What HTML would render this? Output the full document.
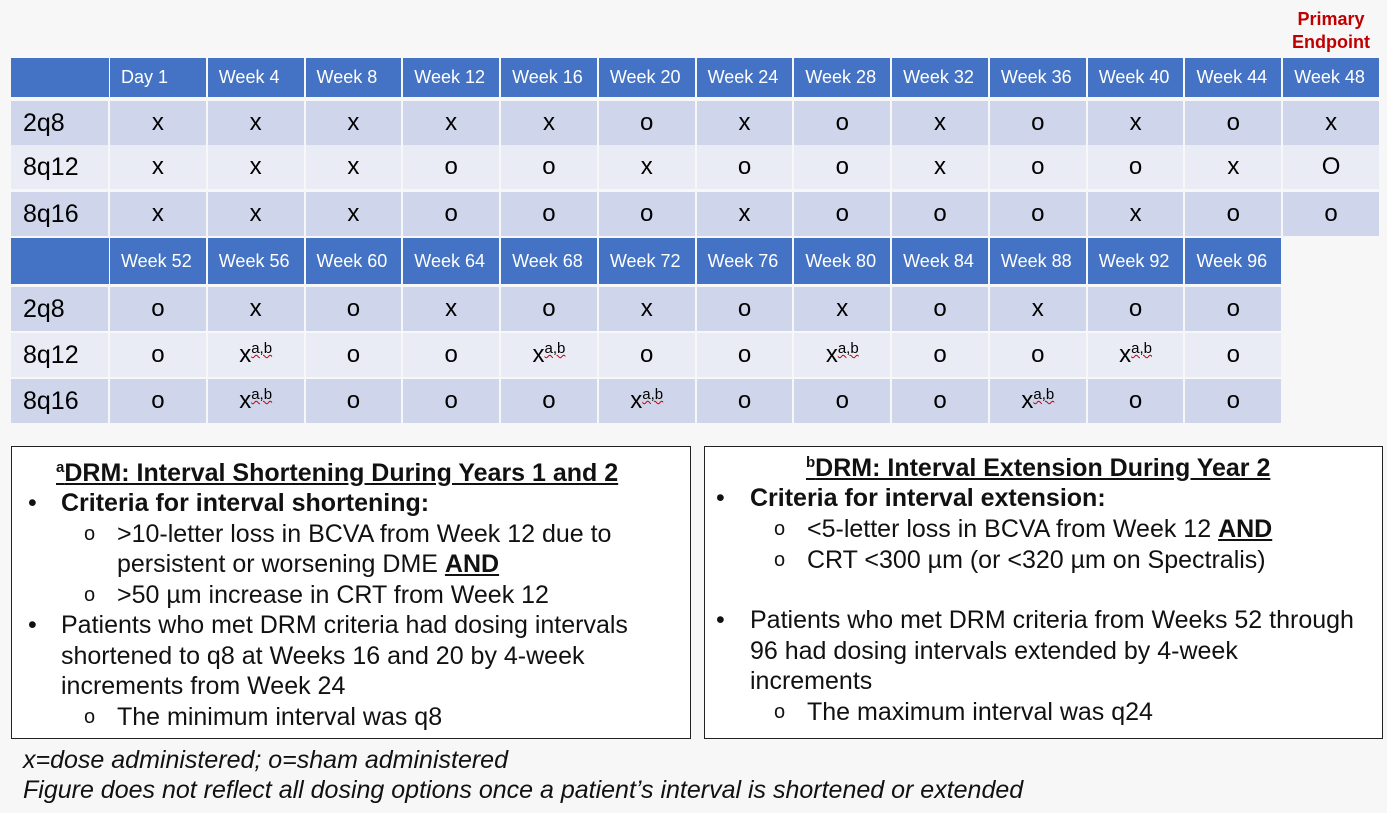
<!DOCTYPE html>
<html><head><meta charset="utf-8">
<style>
body{margin:0;background:#f7f7f7;width:1387px;height:813px;position:relative;overflow:hidden;font-family:"Liberation Sans",Arial,sans-serif;}
.abs{position:absolute;white-space:nowrap;}
.cell{position:absolute;box-sizing:border-box;display:flex;align-items:center;}
.hd{background:#4472c4;color:#fff;font-size:18px;padding-left:11px;}
.d{justify-content:center;font-size:24px;color:#000;}
.lab{font-size:25px;padding-left:12px;color:#000;}
.r0{background:#cfd5ea}.r1{background:#e9ebf5}
.sp{font-size:15px;position:relative;top:-9px;text-decoration:underline wavy #c00000;text-decoration-thickness:1px}
.box{position:absolute;background:#fff;border:1.5px solid #222;box-sizing:border-box;}
.ln{position:absolute;white-space:nowrap;font-size:25px;color:#111;line-height:28px;}
.o{font-size:20px}
.b{font-weight:bold}
</style></head><body>
<div class="abs" style="left:1282px;top:8px;width:98px;text-align:center;color:#c00000;font-weight:bold;font-size:18px;line-height:23px;">Primary<br>Endpoint</div>
<div id="tables"></div>

<div class="box" style="left:11px;top:446px;width:680px;height:293px;"></div>
<div class="ln b" style="left:56px;top:459px;text-decoration:underline;"><span style="font-size:15px;position:relative;top:-9px">a</span>DRM: Interval Shortening During Years 1 and 2</div>
<div class="ln" style="left:28px;top:489px;">•</div>
<div class="ln b" style="left:61px;top:489px;">Criteria for interval shortening:</div>
<div class="ln o" style="left:84px;top:520px;">o</div>
<div class="ln" style="left:117px;top:520px;">&gt;10-letter loss in BCVA from Week 12 due to</div>
<div class="ln" style="left:117px;top:550px;">persistent or worsening DME <b style="text-decoration:underline">AND</b></div>
<div class="ln o" style="left:84px;top:581px;">o</div>
<div class="ln" style="left:117px;top:581px;">&gt;50 µm increase in CRT from Week 12</div>
<div class="ln" style="left:28px;top:611px;">•</div>
<div class="ln" style="left:61px;top:611px;">Patients who met DRM criteria had dosing intervals</div>
<div class="ln" style="left:61px;top:642px;">shortened to q8 at Weeks 16 and 20 by 4-week</div>
<div class="ln" style="left:61px;top:672px;">increments from Week 24</div>
<div class="ln o" style="left:84px;top:703px;">o</div>
<div class="ln" style="left:117px;top:703px;">The minimum interval was q8</div>

<div class="box" style="left:704px;top:446px;width:679px;height:293px;"></div>
<div class="ln b" style="left:806px;top:454px;text-decoration:underline;"><span style="font-size:15px;position:relative;top:-9px">b</span>DRM: Interval Extension During Year 2</div>
<div class="ln" style="left:716px;top:484px;">•</div>
<div class="ln b" style="left:750px;top:484px;">Criteria for interval extension:</div>
<div class="ln o" style="left:774px;top:515px;">o</div>
<div class="ln" style="left:807px;top:515px;">&lt;5-letter loss in BCVA from Week 12 <b style="text-decoration:underline">AND</b></div>
<div class="ln o" style="left:774px;top:546px;">o</div>
<div class="ln" style="left:807px;top:546px;">CRT &lt;300 µm (or &lt;320 µm on Spectralis)</div>
<div class="ln" style="left:716px;top:606px;">•</div>
<div class="ln" style="left:750px;top:606px;">Patients who met DRM criteria from Weeks 52 through</div>
<div class="ln" style="left:750px;top:637px;">96 had dosing intervals extended by 4-week</div>
<div class="ln" style="left:750px;top:667px;">increments</div>
<div class="ln o" style="left:774px;top:698px;">o</div>
<div class="ln" style="left:807px;top:698px;">The maximum interval was q24</div>

<div class="ln" style="left:23px;top:746px;font-style:italic;">x=dose administered; o=sham administered</div>
<div class="ln" style="left:23px;top:776px;font-style:italic;">Figure does not reflect all dosing options once a patient’s interval is shortened or extended</div>

<script>
const groups=["2q8","8q12","8q16"];
const weeks1=["Day 1","Week 4","Week 8","Week 12","Week 16","Week 20","Week 24","Week 28","Week 32","Week 36","Week 40","Week 44","Week 48"];
const vals1_2q8 =["x","x","x","x","x","o","x","o","x","o","x","o","x"];
const vals1_8q12=["x","x","x","o","o","x","o","o","x","o","o","x","O"];
const vals1_8q16=["x","x","x","o","o","o","x","o","o","o","x","o","o"];
const weeks2=["Week 52","Week 56","Week 60","Week 64","Week 68","Week 72","Week 76","Week 80","Week 84","Week 88","Week 92","Week 96"];
const vals2_2q8 =["o","x","o","x","o","x","o","x","o","x","o","o"];
const vals2_8q12=["o","x*","o","o","x*","o","o","x*","o","o","x*","o"];
const vals2_8q16=["o","x*","o","o","o","x*","o","o","o","x*","o","o"];

const root=document.getElementById('tables');
const X0=11,LW=98,CW=(1380-109)/13;
function colX(i){return 109+i*CW;}
function mk(x,y,w,h,cls,html){const d=document.createElement('div');d.className='cell '+cls;
 d.style.left=x+'px';d.style.top=y+'px';d.style.width=w+'px';d.style.height=h+'px';d.innerHTML=html;root.appendChild(d);return d;}
function table(weeks,rows,yHead,hHead,rowTops,rowH){
 let c=mk(X0,yHead,LW,hHead,'hd','');
 
 
 weeks.forEach((w,i)=>{const e=mk(colX(i)+1,yHead,CW-2,hHead,'hd',w);
  
  });
 rows.forEach((r,ri)=>{const y=rowTops[ri],cls=ri%2?'r1':'r0';
  const l=mk(X0,y,LW-1,rowH-2,'lab '+cls,groups[ri]);
  
  
  r.forEach((v,i)=>{const t=v.endsWith('*')?'<span>x<span class="sp">a,b</span></span>':v;
   const e=mk(colX(i)+1,y,CW-2,rowH-2,'d '+cls,t);
   
   });});
}
table(weeks1,[vals1_2q8,vals1_8q12,vals1_8q16],58,39,[101,145,192],46);
table(weeks2,[vals2_2q8,vals2_8q12,vals2_8q16],238,46,[287,333,379],46);
</script>
</body></html>
